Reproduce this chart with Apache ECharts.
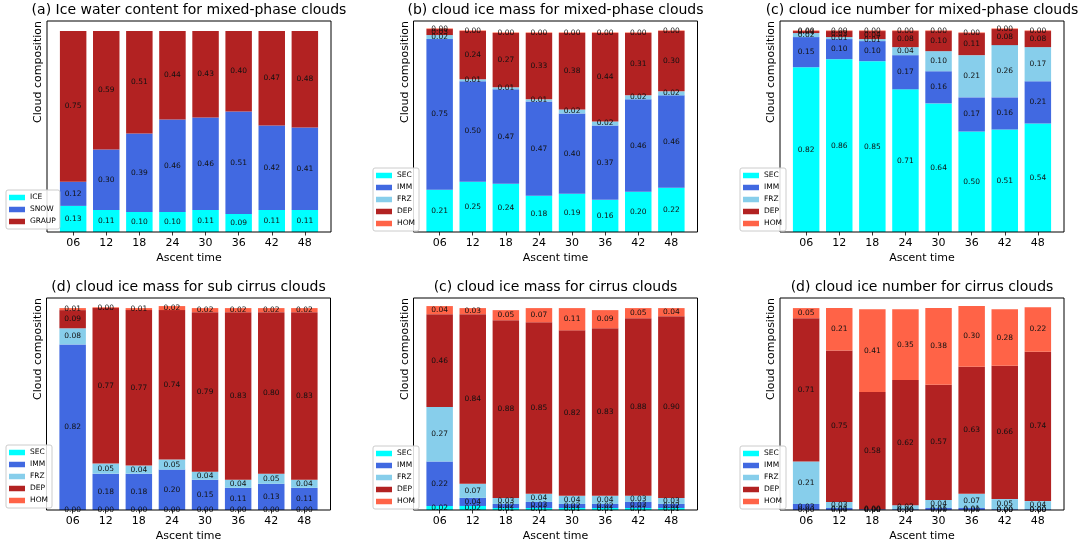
<!DOCTYPE html>
<html>
<head>
<meta charset="utf-8">
<script src="https://cdn.jsdelivr.net/npm/echarts@6/dist/echarts.min.js"></script>
<style>html,body{margin:0;padding:0;background:#fff;}#c{width:1090px;height:547px;}</style>
</head>
<body>
<div id="c"></div>
<script>
// ---------- data ----------
const categories = ['06','12','18','24','30','36','42','48'];

// (a) Ice water content for mixed-phase clouds
const iceA   = [0.13,0.11,0.10,0.10,0.11,0.09,0.11,0.11];
const snowA  = [0.12,0.30,0.39,0.46,0.46,0.51,0.42,0.41];
const graupA = [0.75,0.59,0.51,0.44,0.43,0.40,0.47,0.48];

// (b) cloud ice mass for mixed-phase clouds
const secB = [0.21,0.25,0.24,0.18,0.19,0.16,0.20,0.22];
const immB = [0.75,0.50,0.47,0.47,0.40,0.37,0.46,0.46];
const frzB = [0.02,0.01,0.01,0.01,0.02,0.02,0.02,0.02];
const depB = [0.03,0.24,0.27,0.33,0.38,0.44,0.31,0.30];
const homB = [0.003,0.003,0.003,0.003,0.003,0.003,0.003,0.003];

// (c) cloud ice number for mixed-phase clouds
const secC = [0.82,0.86,0.85,0.71,0.64,0.50,0.51,0.54];
const immC = [0.15,0.10,0.10,0.17,0.16,0.17,0.16,0.21];
const frzC = [0.02,0.01,0.01,0.04,0.10,0.21,0.26,0.17];
const depC = [0.01,0.03,0.04,0.08,0.10,0.11,0.08,0.08];
const homC = [0.003,0.003,0.003,0.003,0.003,0.003,0.003,0.003];

// (d) cloud ice mass for sub cirrus clouds
const secD = [0.00,0.00,0.00,0.00,0.00,0.00,0.00,0.00];
const immD = [0.82,0.18,0.18,0.20,0.15,0.11,0.13,0.11];
const frzD = [0.08,0.05,0.04,0.05,0.04,0.04,0.05,0.04];
const depD = [0.09,0.77,0.77,0.74,0.79,0.83,0.80,0.83];
const homD = [0.01,0.004,0.01,0.02,0.02,0.02,0.02,0.02];

// (c) cloud ice mass for cirrus clouds
const secE = [0.02,0.02,0.01,0.01,0.01,0.01,0.01,0.01];
const immE = [0.22,0.04,0.02,0.03,0.02,0.02,0.03,0.02];
const frzE = [0.27,0.07,0.03,0.04,0.04,0.04,0.03,0.03];
const depE = [0.46,0.84,0.88,0.85,0.82,0.83,0.88,0.90];
const homE = [0.04,0.03,0.05,0.07,0.11,0.09,0.05,0.04];

// (d) cloud ice number for cirrus clouds
const secF = [0.00,0.00,0.00,0.00,0.00,0.00,0.00,0.00];
const immF = [0.03,0.01,0.004,0.004,0.01,0.01,0.004,0.004];
const frzF = [0.21,0.03,0.00,0.02,0.04,0.07,0.05,0.04];
const depF = [0.71,0.75,0.58,0.62,0.57,0.63,0.66,0.74];
const homF = [0.05,0.21,0.41,0.35,0.38,0.30,0.28,0.22];

const titles = [
  '(a) Ice water content for mixed-phase clouds',
  '(b) cloud ice mass for mixed-phase clouds',
  '(c) cloud ice number for mixed-phase clouds',
  '(d) cloud ice mass for sub cirrus clouds',
  '(c) cloud ice mass for cirrus clouds',
  '(d) cloud ice number for cirrus clouds'
];
const namesA = ['ICE','SNOW','GRAUP'];
const namesP = ['SEC','IMM','FRZ','DEP','HOM'];
const panelSeries = [
  [iceA, snowA, graupA],
  [secB, immB, frzB, depB, homB],
  [secC, immC, frzC, depC, homC],
  [secD, immD, frzD, depD, homD],
  [secE, immE, frzE, depE, homE],
  [secF, immF, frzF, depF, homF]
];

// ---------- styling / layout ----------
const colorMap = {ICE:'#00ffff', SNOW:'#4169e1', GRAUP:'#b22222',
  SEC:'#00ffff', IMM:'#4169e1', FRZ:'#87ceeb', DEP:'#b22222', HOM:'#ff6347'};
const FONT = 'DejaVu Sans';
const boxes = [
  {l:47,  t:21,  w:284, h:211},
  {l:413.5,t:21, w:284, h:211},
  {l:780, t:21,  w:284, h:211},
  {l:46.5,t:298, w:284, h:212},
  {l:413.5,t:298,w:284, h:212},
  {l:780, t:298, w:284, h:212}
];
const legendPos = [
  {l:6, t:190}, {l:373, t:168}, {l:740, t:168},
  {l:6, t:445}, {l:373, t:446}, {l:740, t:446}
];
const YMAX = 1.05;
const units = 8.58; // matplotlib x-extent in bar units
const inset = 0.29; // units from box edge to first band edge

const grids = [], xAxes = [], yAxes = [], series = [], titleArr = [], legends = [], graphics = [];

boxes.forEach((b, i) => {
  const pxu = b.w / units;
  const ins = inset * pxu;
  grids.push({left: b.l + ins, top: b.t, width: b.w - 2*ins, height: b.h, containLabel:false});
});
boxes.forEach((b, i) => {
  grids.push({left: b.l, top: b.t, width: b.w, height: b.h, show:true,
    borderColor:'#000', borderWidth:1, backgroundColor:'transparent', z:5});
});

boxes.forEach((b, i) => {
  xAxes.push({type:'category', gridIndex:i, data:categories,
    axisLine:{show:false},
    axisTick:{show:true, alignWithLabel:true, length:3.5, lineStyle:{color:'#000', width:0.8}},
    axisLabel:{color:'#000', fontSize:11, fontFamily:FONT, margin:6},
    name:'Ascent time', nameLocation:'middle', nameGap:21,
    nameTextStyle:{color:'#000', fontSize:11, fontFamily:FONT}
  });
  yAxes.push({type:'value', gridIndex:i, min:0, max:YMAX,
    axisLine:{show:false}, axisTick:{show:false}, axisLabel:{show:false}, splitLine:{show:false}});
});
boxes.forEach((b, i) => {
  xAxes.push({type:'value', gridIndex:6+i, show:false});
  yAxes.push({type:'value', gridIndex:6+i, show:false});
});

panelSeries.forEach((arrs, i) => {
  const names = i === 0 ? namesA : namesP;
  arrs.forEach((vals, j) => {
    series.push({
      type:'bar', name:names[j], stack:'p'+i, xAxisIndex:i, yAxisIndex:i,
      barWidth:'80%', data:vals,
      itemStyle:{color:colorMap[names[j]]},
      label:{show:true, position:'inside', color:'#111', fontSize:7.5, fontFamily:FONT,
        textBorderWidth:0, formatter:p => Number(p.value).toFixed(2)},
      emphasis:{disabled:true}, animation:false
    });
  });
  const b = boxes[i];
  titleArr.push({text:titles[i], left:b.l + b.w/2, top: b.t - 18, textAlign:'center',
    textStyle:{fontFamily:FONT, fontSize:14, fontWeight:'normal', color:'#000'}, padding:0});
  legends.push({data:names, orient:'vertical', left:legendPos[i].l, top:legendPos[i].t,
    itemWidth:16, itemHeight:5.5, itemGap:3, icon:'rect', selectedMode:false,
    padding:[3,4,3,3], backgroundColor:'rgba(255,255,255,0.85)', borderColor:'#ccc', borderWidth:1, borderRadius:2,
    textStyle:{fontFamily:FONT, fontSize:7.5, color:'#000', lineHeight:9}, z:10});
  graphics.push({type:'text', x:b.l - 8.5, y:b.t, rotation:Math.PI/2,
    style:{text:'Cloud composition', font:'11px "DejaVu Sans"', fill:'#000', textAlign:'right', textVerticalAlign:'middle'}});
});

const chart = echarts.init(document.getElementById('c'), null, {renderer:'canvas'});
chart.setOption({
  backgroundColor:'#fff', animation:false,
  title:titleArr, legend:legends, grid:grids, xAxis:xAxes, yAxis:yAxes, series:series, graphic:graphics
});
</script>
</body>
</html>
